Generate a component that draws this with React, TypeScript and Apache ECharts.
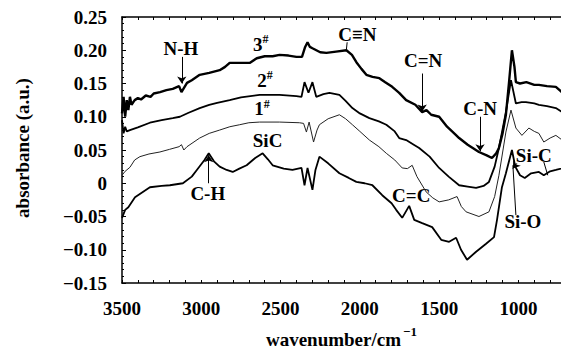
import React, { useEffect, useRef } from "react";
import * as echarts from "echarts";

// ---- data (wavenumber in cm^-1, absorbance in a.u.) ----
const wn3 = [3500, 3490, 3480, 3470, 3460, 3450, 3440, 3420, 3400, 3380, 3350, 3320, 3300, 3260, 3220, 3180, 3140, 3125, 3110, 3090, 3060, 3010, 2950, 2884, 2850, 2821, 2760, 2695, 2650, 2600, 2550, 2506, 2450, 2400, 2365, 2345, 2330, 2315, 2299, 2250, 2211, 2150, 2085, 2050, 2022, 1990, 1959, 1920, 1877, 1840, 1796, 1752, 1708, 1650, 1607, 1580, 1550, 1500, 1450, 1400, 1374, 1320, 1249, 1200, 1167, 1140, 1123, 1100, 1079, 1060, 1041, 1025, 1016, 990, 950, 900, 871, 820, 764, 730, 700];
const abs3 = [0.105, 0.13, 0.1, 0.125, 0.11, 0.13, 0.118, 0.125, 0.128, 0.126, 0.132, 0.13, 0.135, 0.137, 0.14, 0.142, 0.146, 0.137, 0.143, 0.151, 0.155, 0.163, 0.166, 0.17, 0.175, 0.181, 0.181, 0.181, 0.188, 0.191, 0.191, 0.193, 0.192, 0.19, 0.19, 0.205, 0.212, 0.205, 0.203, 0.197, 0.196, 0.198, 0.2, 0.193, 0.182, 0.172, 0.163, 0.16, 0.158, 0.152, 0.145, 0.136, 0.125, 0.118, 0.107, 0.11, 0.103, 0.1, 0.085, 0.074, 0.068, 0.058, 0.047, 0.042, 0.038, 0.045, 0.053, 0.075, 0.103, 0.15, 0.2, 0.175, 0.152, 0.15, 0.152, 0.148, 0.148, 0.146, 0.145, 0.138, 0.128];

const wn2 = [3500, 3490, 3480, 3470, 3450, 3400, 3324, 3250, 3180, 3135, 3080, 3010, 2950, 2900, 2821, 2750, 2632, 2506, 2400, 2368, 2349, 2324, 2299, 2275, 2230, 2192, 2129, 2090, 2047, 2000, 1940, 1880, 1833, 1780, 1752, 1708, 1660, 1626, 1560, 1500, 1440, 1374, 1320, 1267, 1220, 1186, 1150, 1123, 1079, 1047, 1016, 980, 953, 900, 871, 820, 764, 730, 700];
const abs2 = [0.095, 0.075, 0.085, 0.078, 0.08, 0.084, 0.091, 0.095, 0.098, 0.1, 0.106, 0.113, 0.118, 0.121, 0.125, 0.129, 0.133, 0.133, 0.131, 0.13, 0.152, 0.136, 0.152, 0.13, 0.134, 0.136, 0.133, 0.124, 0.113, 0.105, 0.098, 0.093, 0.088, 0.078, 0.068, 0.065, 0.058, 0.053, 0.04, 0.023, 0.01, -0.003, -0.005, -0.007, -0.004, 0.002, 0.025, 0.053, 0.107, 0.155, 0.12, 0.122, 0.122, 0.12, 0.118, 0.116, 0.113, 0.108, 0.1];

const wn1 = [3500, 3480, 3450, 3420, 3387, 3330, 3261, 3200, 3140, 3125, 3110, 3090, 3010, 2950, 2884, 2820, 2758, 2700, 2632, 2506, 2381, 2355, 2337, 2320, 2292, 2270, 2255, 2200, 2129, 2090, 2047, 2000, 1940, 1880, 1833, 1780, 1733, 1700, 1670, 1640, 1582, 1540, 1500, 1440, 1387, 1360, 1330, 1249, 1186, 1150, 1123, 1079, 1047, 1016, 978, 934, 900, 871, 840, 800, 764, 730, 700];
const abs1 = [0.012, 0.018, 0.024, 0.035, 0.04, 0.044, 0.047, 0.051, 0.055, 0.058, 0.05, 0.055, 0.068, 0.075, 0.08, 0.085, 0.088, 0.091, 0.092, 0.092, 0.091, 0.09, 0.077, 0.092, 0.062, 0.08, 0.088, 0.097, 0.103, 0.097, 0.088, 0.078, 0.065, 0.055, 0.045, 0.035, 0.023, 0.022, 0.027, 0.01, -0.013, -0.022, -0.028, -0.025, -0.02, -0.035, -0.043, -0.05, -0.043, -0.02, 0.012, 0.077, 0.11, 0.083, 0.072, 0.083, 0.078, 0.075, 0.062, 0.068, 0.072, 0.066, 0.062];

const wnS = [3500, 3480, 3460, 3418, 3324, 3250, 3198, 3116, 3060, 3028, 2980, 2953, 2920, 2884, 2840, 2802, 2760, 2714, 2660, 2613, 2580, 2550, 2480, 2425, 2368, 2349, 2330, 2299, 2280, 2255, 2200, 2129, 2070, 2022, 1970, 1921, 1859, 1800, 1771, 1733, 1689, 1657, 1607, 1544, 1487, 1437, 1393, 1362, 1324, 1267, 1204, 1154, 1135, 1104, 1079, 1041, 1020, 990, 960, 920, 871, 840, 800, 764, 730, 700];
const absS = [-0.052, -0.04, -0.036, -0.021, -0.006, -0.004, -0.003, 0.0, 0.01, 0.02, 0.035, 0.045, 0.033, 0.025, 0.02, 0.017, 0.022, 0.027, 0.038, 0.045, 0.036, 0.027, 0.022, 0.02, 0.023, -0.003, 0.023, -0.01, 0.02, 0.04, 0.03, 0.015, 0.008, 0.002, 0.0, -0.003, -0.018, -0.03, -0.04, -0.052, -0.034, -0.055, -0.06, -0.066, -0.085, -0.088, -0.082, -0.1, -0.115, -0.103, -0.091, -0.081, -0.055, -0.006, 0.015, 0.05, 0.025, 0.012, 0.008, 0.015, 0.017, 0.012, 0.018, 0.02, 0.022, 0.025];

// annotation labels: text, wavenumber, absorbance
const labelTexts = ["N-H", "C-H", "C≡N", "C=N", "C-N", "Si-C", "Si-O", "C=C", "SiC"];
const labelWn = [3129, 2959, 2016, 1601, 1242, 903, 972, 1676, 2582];
const labelAbs = [0.203, -0.015, 0.224, 0.184, 0.113, 0.042, -0.058, -0.018, 0.064];

const curveNames = ["3", "2", "1"];
const curveNameWn = [2620, 2594, 2613];
const curveNameAbs = [0.209, 0.155, 0.112];

// pointer lines
const pointerFromWn = [3123, 2953, 2080, 1607, 1242, 1010, 840, 1016];
const pointerFromAbs = [0.19, 0.0, 0.212, 0.165, 0.1, 0.03, 0.032, -0.048];
const pointerToWn = [3123, 2953, 2085, 1607, 1242, 1035, 815, 1035];
const pointerToAbs = [0.15, 0.042, 0.201, 0.108, 0.048, 0.022, 0.012, 0.027];
const pointerArrow = [true, true, false, true, true, true, false, false];

const FONT = "Liberation Serif";
const WEIGHT = "bold";
const FS = 19;

const zip = (a: number[], b: number[]) => a.map((x, i) => [x, b[i]]);

export default function App() {
  const ref = useRef<HTMLDivElement>(null);
  useEffect(() => {
    if (!ref.current) return;
    const chart = echarts.init(ref.current, null, { renderer: "svg" });
    const fmtY = (v: number) => {
      const r = Math.round(v * 100) / 100;
      if (Math.abs(r) < 1e-9) return "0";
      return r < 0 ? "\u2212" + Math.abs(r).toFixed(2) : r.toFixed(2);
    };
    const axisText = { fontFamily: FONT, fontWeight: WEIGHT, fontSize: FS, color: "#000" };
    const xBase: any = {
      type: "value",
      min: 700,
      max: 3500,
      interval: 100,
      inverse: true,
      axisLine: { show: true, onZero: false, lineStyle: { color: "#000", width: 1.5 } },
      axisTick: { show: true, inside: true, length: 3, lineStyle: { color: "#000" } },
      splitLine: { show: false },
    };
    const yBase: any = {
      type: "value",
      min: -0.15,
      max: 0.25,
      interval: 0.05,
      axisLine: { show: true, onZero: false, lineStyle: { color: "#000", width: 1.5 } },
      axisTick: { show: true, inside: true, length: 4, lineStyle: { color: "#000" } },
      minorTick: { show: true, splitNumber: 5, length: 2, lineStyle: { color: "#000" } },
      splitLine: { show: false },
    };
    const lineSeries = (name: string, data: number[][], width: number, color: string) => ({
      name,
      type: "line",
      data,
      showSymbol: false,
      symbol: "none",
      smooth: false,
      lineStyle: { color, width },
      silent: true,
      z: 3,
    });
    const markData = pointerFromWn.map((w, i) => [
      { coord: [w, pointerFromAbs[i]], symbol: "none" },
      { coord: [pointerToWn[i], pointerToAbs[i]], symbol: pointerArrow[i] ? "arrow" : "none", symbolSize: 7 },
    ]);
    const option: any = {
      animation: false,
      backgroundColor: "#fff",
      grid: { left: 122, right: 2, top: 17, bottom: 72, containLabel: false },
      xAxis: [
        {
          ...xBase,
          position: "bottom",
          axisLabel: {
            ...axisText,
            margin: 16,
            formatter: (v: number) => (v % 500 === 0 ? String(v) : ""),
          },
        },
        { ...xBase, position: "top", axisLabel: { show: false } },
      ],
      yAxis: [
        { ...yBase, position: "left", axisLabel: { ...axisText, margin: 15, formatter: fmtY } },
        { ...yBase, position: "right", axisLabel: { show: false } },
      ],
      series: [
        lineSeries("3#", zip(wn3, abs3), 2.4, "#000"),
        lineSeries("2#", zip(wn2, abs2), 1.8, "#000"),
        lineSeries("1#", zip(wn1, abs1), 1, "#222"),
        lineSeries("SiC", zip(wnS, absS), 1.8, "#000"),
        {
          type: "line",
          data: [],
          silent: true,
          markLine: {
            silent: true,
            symbol: ["none", "arrow"],
            label: { show: false },
            lineStyle: { color: "#000", width: 1, type: "solid" },
            data: markData,
          },
        },
      ],
    };
    chart.setOption(option);

    const px = (w: number, a: number) => chart.convertToPixel({ gridIndex: 0 }, [w, a]) as number[];
    const txt = (text: string, x: number, y: number, size: number, align: string, extra: any = {}) => ({
      type: "text",
      x,
      y,
      ...extra,
      style: { text, fontFamily: FONT, fontWeight: WEIGHT, fontSize: size, fill: "#000", align, verticalAlign: "middle" },
    });
    const graphics: any[] = [];
    labelTexts.forEach((t, i) => {
      const p = px(labelWn[i], labelAbs[i]);
      graphics.push(txt(t, p[0], p[1], FS, "center"));
    });
    curveNames.forEach((t, i) => {
      const p = px(curveNameWn[i], curveNameAbs[i]);
      graphics.push(txt(t, p[0] + 1, p[1], FS, "right"));
      graphics.push(txt("#", p[0] + 1, p[1] - 5, 12, "left"));
    });
    graphics.push(txt("absorbance (a.u.)", 22, 148, FS, "center", { rotation: Math.PI / 2 }));
    graphics.push(txt("wavenumber/cm", 401, 339, FS, "right"));
    graphics.push(txt("\u22121", 403, 331, 13, "left"));
    chart.setOption({ graphic: graphics });
    return () => chart.dispose();
  }, []);
  return <div ref={ref} style={{ width: 569, height: 355, margin: -8 }} />;
}
